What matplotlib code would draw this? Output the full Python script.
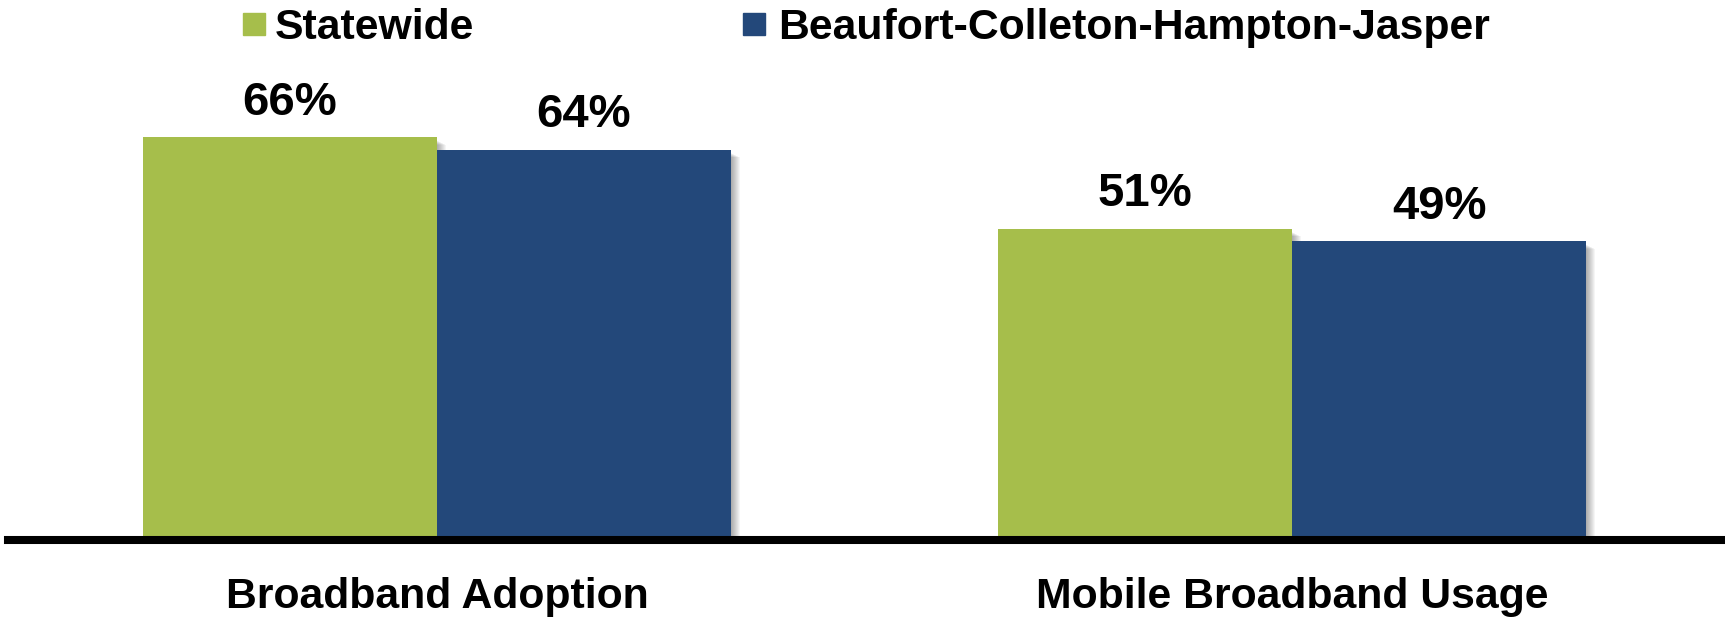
import matplotlib.pyplot as plt
from matplotlib.patches import Rectangle
import numpy as np

# Data
categories = ["Broadband Adoption", "Mobile Broadband Usage"]
series_names = ["Statewide", "Beaufort-Colleton-Hampton-Jasper"]
statewide = [66, 51]
region = [64, 49]
colors = ["#A6BE4B", "#23487A"]

plt.rcParams['font.family'] = ['Liberation Sans', 'DejaVu Sans']

fig = plt.figure(figsize=(17.25, 6.17), dpi=100)
ax = fig.add_axes([0, 0, 1, 1])

x = np.arange(len(categories))
w = 0.344
px = 1 / 855.0      # one pixel in x data units
py = 1 / 6.1        # one pixel in y data units

for vals, off, col in [(statewide, -w / 2, colors[0]), (region, w / 2, colors[1])]:
    # soft shadow to the right
    for k in range(1, 10):
        ax.bar(x + off + k * px, np.array(vals) - (3 + k * 0.5) * py, w,
               color="black", alpha=0.04, linewidth=0, zorder=1)
    ax.bar(x + off, vals, w, color=col, linewidth=0, zorder=2)
    for xi, v in zip(x + off, vals):
        ax.text(xi, v + 3.7, f"{v}%", ha="center", va="baseline",
                fontsize=34, fontweight="bold", color="black", zorder=5)

# baseline
ax.axhline(0, xmin=8 / 1725, xmax=1, color="black", linewidth=5.8, zorder=4)

for xi, c in zip(x, categories):
    ax.text(xi, -11.1, c, ha="center", va="baseline", fontsize=30.8,
            fontweight="bold", color="black")

ax.set_xlim(-437 / 855, (1725 - 437) / 855)
ax.set_ylim(-77 / 6.1, 540 / 6.1)
ax.axis("off")

# legend drawn by hand
W, H = 1725.0, 617.0
leg = [(243, 275), (743, 778)]
for (sx, tx), name, col in zip(leg, series_names, colors):
    fig.patches.append(Rectangle((sx / W, 1 - 35 / H), 22 / W, 22 / H,
                                 transform=fig.transFigure, color=col))
    fig.text(tx / W, 1 - 39 / H, name, ha="left", va="baseline",
             fontsize=30.8, fontweight="bold", color="black")

fig.savefig("out.png", dpi=100)
